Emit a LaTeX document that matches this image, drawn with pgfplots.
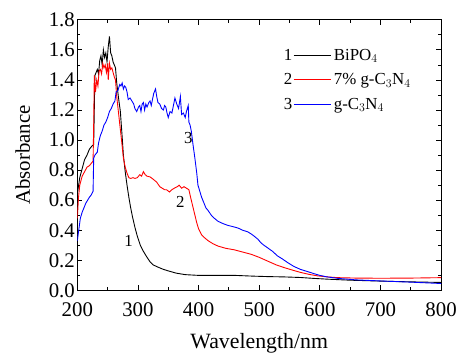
\documentclass[border=0pt]{standalone}
\usepackage{pgfplots}
\pgfplotsset{compat=1.18}
\usepackage{fontspec}
\setmainfont{Liberation Serif}
\begin{document}
\begin{tikzpicture}
\begin{axis}[
  at={(0,0)}, anchor=south west,
  scale only axis, width=367pt, height=273pt,
  xmin=200, xmax=800, ymin=0, ymax=1.8,
  xtick={200,300,...,800}, ytick={0,0.2,...,1.8},
  minor tick num=1,
  tick align=inside, major tick length=5pt, minor tick length=3pt,
  axis line style={line width=1pt}, every tick/.style={black, line width=0.8pt},
  /pgf/number format/assume math mode=true,
  yticklabel style={/pgf/number format/fixed, /pgf/number format/precision=1, /pgf/number format/fixed zerofill, font=\rmfamily\fontsize{21}{23}\selectfont, xshift=1pt},
  xticklabel style={/pgf/number format/1000 sep={}, font=\rmfamily\fontsize{21}{23}\selectfont, yshift=-9pt},
  scaled y ticks=false,
  xlabel={Wavelength/nm}, ylabel={Absorbance},
  xlabel style={font=\rmfamily\fontsize{22}{24}\selectfont, yshift=-10pt},
  ylabel style={font=\rmfamily\fontsize{21}{23}\selectfont, yshift=12pt},
  legend style={draw=none, fill=none, at={(0.559,0.908)}, anchor=north west, font=\rmfamily\fontsize{17}{19}\selectfont, row sep=8pt},
  legend cell align=left,
  every axis plot/.append style={line width=0.9pt},
]
\addplot[black, legend image code/.code={\node[anchor=east,inner sep=0pt,text=black,font=\rmfamily\fontsize{17}{19}\selectfont] at (-1pt,0pt){1};\draw[color=black,line width=1pt] (0pt,0pt)--(38pt,0pt);}] coordinates {
(200,0.64)(204,0.75)(208,0.81)(212,0.87)(216,0.90)(220,0.94)(224,0.96)(227,0.97)(228,1.20)(229,1.43)(231,1.45)(233,1.47)(235,1.44)(237,1.53)(239,1.56)(241,1.50)(243,1.60)(245,1.55)(247,1.58)(249,1.52)(251,1.62)(253,1.69)(255,1.58)(257,1.56)(259,1.52)(261,1.50)(263,1.48)(265,1.38)(268,1.28)(271,1.19)(274,1.02)(276,0.90)(279,0.79)(282,0.70)(285,0.62)(288,0.55)(291,0.49)(295,0.42)(299,0.36)(304,0.30)(309,0.26)(315,0.22)(320,0.19)(325,0.17)(333,0.155)(342,0.14)(350,0.13)(363,0.115)(378,0.105)(400,0.10)(430,0.10)(460,0.10)(490,0.095)(514,0.092)(540,0.09)(568,0.086)(590,0.08)(612,0.075)(650,0.068)(700,0.062)(750,0.057)(800,0.053)
};
\addlegendentry{BiPO$_4$}
\addplot[red, legend image code/.code={\node[anchor=east,inner sep=0pt,text=black,font=\rmfamily\fontsize{17}{19}\selectfont] at (-1pt,0pt){2};\draw[color=red,line width=1pt] (0pt,0pt)--(38pt,0pt);}] coordinates {
(200,0.48)(202,0.62)(204,0.70)(208,0.76)(212,0.79)(216,0.82)(220,0.83)(224,0.85)(226,0.86)(227,1.10)(228,1.43)(230,1.32)(232,1.40)(234,1.36)(236,1.46)(238,1.47)(240,1.44)(242,1.51)(244,1.48)(246,1.50)(248,1.45)(250,1.51)(251,1.40)(253,1.51)(255,1.47)(257,1.48)(259,1.45)(261,1.42)(263,1.40)(265,1.29)(268,1.18)(271,1.07)(274,0.96)(276,0.88)(279,0.82)(282,0.78)(285,0.75)(288,0.745)(292,0.75)(295,0.745)(299,0.75)(303,0.77)(306,0.76)(309,0.79)(312,0.77)(315,0.76)(320,0.755)(325,0.74)(331,0.72)(336,0.69)(340,0.68)(344,0.67)(347,0.67)(352,0.655)(356,0.67)(360,0.68)(365,0.69)(368,0.70)(372,0.68)(376,0.69)(380,0.68)(384,0.67)(388,0.60)(391,0.55)(394,0.50)(397,0.45)(400,0.41)(405,0.37)(410,0.35)(416,0.33)(424,0.31)(432,0.295)(445,0.28)(459,0.27)(473,0.255)(487,0.24)(500,0.22)(514,0.195)(528,0.17)(541,0.152)(555,0.135)(568,0.12)(582,0.107)(596,0.097)(612,0.09)(630,0.085)(660,0.082)(700,0.081)(750,0.082)(800,0.085)
};
\addlegendentry{7\% g-C$_3$N$_4$}
\addplot[blue, legend image code/.code={\node[anchor=east,inner sep=0pt,text=black,font=\rmfamily\fontsize{17}{19}\selectfont] at (-1pt,0pt){3};\draw[color=blue,line width=1pt] (0pt,0pt)--(38pt,0pt);}] coordinates {
(200,0.33)(203,0.42)(205,0.48)(208,0.52)(211,0.55)(214,0.58)(217,0.60)(220,0.62)(223,0.635)(226,0.66)(227,0.88)(229,0.90)(231,0.91)(233,0.92)(235,0.98)(238,1.03)(241,1.06)(244,1.10)(247,1.12)(250,1.15)(253,1.19)(256,1.21)(259,1.24)(262,1.26)(264,1.32)(267,1.33)(270,1.37)(272,1.36)(274,1.38)(276,1.34)(278,1.36)(280,1.35)(282,1.32)(284,1.27)(287,1.28)(290,1.26)(293,1.24)(295,1.21)(298,1.19)(301,1.22)(303,1.23)(305,1.19)(307,1.24)(309,1.25)(311,1.20)(313,1.24)(315,1.22)(318,1.25)(320,1.26)(322,1.23)(324,1.27)(326,1.31)(329,1.34)(331,1.29)(333,1.25)(336,1.24)(339,1.21)(342,1.20)(344,1.23)(346,1.22)(348,1.18)(350,1.15)(353,1.19)(356,1.18)(358,1.22)(361,1.28)(364,1.24)(367,1.21)(370,1.29)(372,1.17)(375,1.18)(378,1.15)(380,1.19)(383,1.23)(384,1.12)(386,1.10)(388,1.06)(391,0.965)(394,0.877)(397,0.78)(399,0.70)(402,0.66)(405,0.62)(408,0.59)(412,0.55)(416,0.53)(421,0.50)(426,0.48)(432,0.46)(440,0.445)(448,0.433)(456,0.425)(465,0.415)(473,0.40)(481,0.39)(487,0.375)(492,0.36)(498,0.34)(503,0.316)(508,0.30)(514,0.283)(522,0.26)(530,0.23)(538,0.21)(547,0.185)(557,0.16)(568,0.14)(580,0.125)(590,0.112)(600,0.10)(612,0.09)(630,0.08)(660,0.07)(700,0.063)(750,0.055)(800,0.046)
};
\addlegendentry{g-C$_3$N$_4$}
\node[font=\rmfamily\fontsize{17}{19}\selectfont] at (axis cs:284.5,0.33) {1};
\node[font=\rmfamily\fontsize{17}{19}\selectfont] at (axis cs:370,0.59) {2};
\node[font=\rmfamily\fontsize{17}{19}\selectfont] at (axis cs:383,1.015) {3};
\end{axis}
\path (-78pt,-58pt) rectangle (382pt,293pt);
\end{tikzpicture}
\end{document}
